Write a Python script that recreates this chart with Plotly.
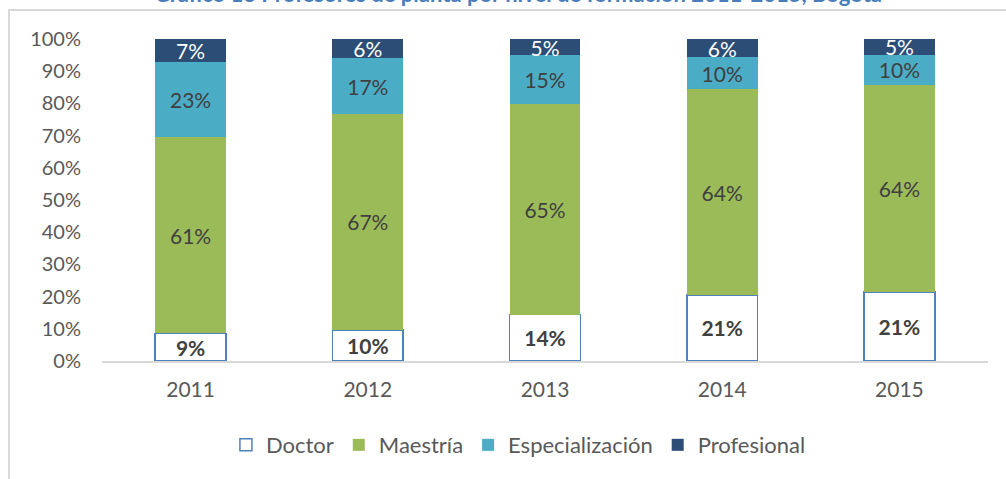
import plotly.graph_objects as go

years = ["2011", "2012", "2013", "2014", "2015"]
doctor = [8.6, 9.7, 14.4, 20.5, 21.4]
maestria = [60.9, 67.0, 65.4, 63.9, 64.3]
especializacion = [23.5, 17.4, 15.2, 10.0, 9.4]
profesional = [7.0, 5.9, 5.0, 5.6, 4.9]

doctor_labels = ["9%", "10%", "14%", "21%", "21%"]
maestria_labels = ["61%", "67%", "65%", "64%", "64%"]
especializacion_labels = ["23%", "17%", "15%", "10%", "10%"]
profesional_labels = ["7%", "6%", "5%", "6%", "5%"]

title_text = "Gráfico 13 Profesores de planta por nivel de formación 2011-2015, Bogotá"
ytick_vals = [0, 10, 20, 30, 40, 50, 60, 70, 80, 90, 100]
ytick_text = ["0%", "10%", "20%", "30%", "40%", "50%", "60%", "70%", "80%", "90%", "100%"]

FONT = "Lato"
series = [
    ("Doctor", doctor, doctor_labels, "#FFFFFF", "#4F81BD", 1.5, "#404040", True),
    ("Maestría", maestria, maestria_labels, "#9BBB59", "#9BBB59", 0, "#404040", False),
    ("Especialización", especializacion, especializacion_labels, "#4BACC6", "#4BACC6", 0, "#404040", False),
    ("Profesional", profesional, profesional_labels, "#2C4D75", "#2C4D75", 0, "#FFFFFF", False),
]

fig = go.Figure()
for name, vals, labels, fill, line, lw, tcol, bold in series:
    fig.add_trace(go.Bar(
        name=name, x=years, y=vals, text=labels,
        textposition="inside", insidetextanchor="middle", textangle=0,
        constraintext="none",
        textfont=dict(family=FONT, size=21, color=tcol,
                      weight="bold" if bold else "normal"),
        marker=dict(color=fill, line=dict(color=line, width=lw)),
        hoverinfo="skip",
    ))

fx0 = (9 - 102) / 886
fy0 = (361 - 10) / 322

fig.update_layout(
    barmode="stack", bargap=0.6,
    width=1006, height=479,
    margin=dict(l=102, r=18, t=39, b=118),
    paper_bgcolor="white", plot_bgcolor="white",
    font=dict(family=FONT, size=20, color="#595959"),
    showlegend=True,
    legend=dict(orientation="h", x=0.47, xanchor="center", y=-0.261, yanchor="middle",
                font=dict(family=FONT, size=22, color="#595959"), traceorder="normal",
                itemclick=False),
    xaxis=dict(showline=True, linecolor="#D9D9D9", linewidth=1.5, showgrid=False,
               ticks="", tickfont=dict(size=21, color="#595959"), ticklabelstandoff=9),
    yaxis=dict(range=[0, 100], tickvals=ytick_vals, ticktext=ytick_text, showgrid=False,
               zeroline=False, showline=False, ticks="",
               tickfont=dict(size=20, color="#595959"), ticklabelstandoff=20),
    annotations=[dict(text="<b>" + title_text + "</b>", xref="paper", yref="paper",
                      x=0.47, y=(361 - 9) / 322, xanchor="center", yanchor="bottom",
                      showarrow=False, font=dict(family=FONT, size=22, color="#4A7EBB"))],
    shapes=[
        dict(type="rect", xref="paper", yref="paper", x0=fx0, x1=1.05,
             y0=-0.45, y1=fy0, layer="below", fillcolor="rgba(0,0,0,0)",
             line=dict(color="#D9D9D9", width=2)),
    ],
)

fig.write_html("out.html", config={"displayModeBar": False},
               post_script="document.body.style.margin='0';")
